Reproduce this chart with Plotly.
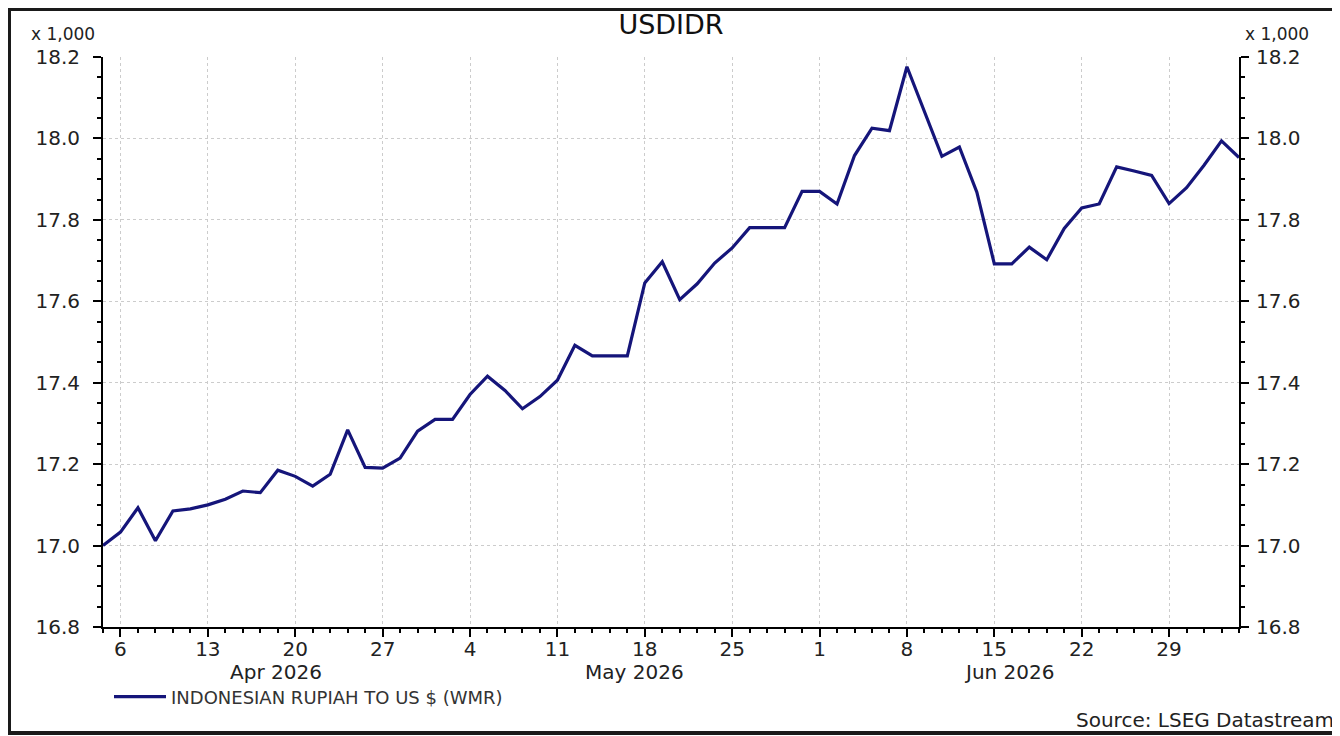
import plotly.graph_objects as go
import pandas as pd

# business days shown on the chart, Fri 3 Apr -> Fri 3 Jul 2026
dates = pd.bdate_range("2026-04-03", "2026-07-03")

# USD/IDR, in thousands of rupiah (axis is "x 1,000")
rate = [
    # April
    17.000, 17.033, 17.093, 17.012, 17.085, 17.090, 17.100, 17.114, 17.134, 17.130,
    17.185, 17.170, 17.146, 17.175, 17.284, 17.192, 17.190, 17.215, 17.281, 17.310,
    # May
    17.310, 17.371, 17.416, 17.381, 17.336, 17.366, 17.406, 17.492, 17.466, 17.466,
    17.466, 17.645, 17.697, 17.604, 17.643, 17.694, 17.731, 17.781, 17.781, 17.781,
    17.870,
    # June
    17.870, 17.839, 17.958, 18.025, 18.019, 18.176, 18.068, 17.956, 17.979, 17.868,
    17.692, 17.692, 17.733, 17.702, 17.779, 17.829, 17.839, 17.930, 17.920, 17.909,
    17.840, 17.879,
    # July
    17.934, 17.994, 17.953,
]
assert len(rate) == len(dates)

series_name = "INDONESIAN RUPIAH TO US $ (WMR)"
month_labels = ["Apr 2026", "May 2026", "Jun 2026"]
month_pos = [0.152, 0.468, 0.798]   # centre of each month label, paper coords

mondays = [d for d in dates if d.weekday() == 0]

FONT = "DejaVu Sans"
TXT = "#222222"
GRID = "#cccccc"

# the page has an 8px body margin, so the figure is 8px smaller and shifted
W, H = 1332, 728
ML, MR, MT, MB = 95, 101, 49, 109
PW, PH = W - ML - MR, H - MT - MB

fig = go.Figure()
fig.add_trace(go.Scatter(
    x=dates, y=rate, mode="lines", name=series_name,
    line=dict(color="#15157a", width=3.2),
))
# invisible copy on the right axis so it gets its own labels
fig.add_trace(go.Scatter(
    x=dates, y=rate, mode="lines", yaxis="y2", showlegend=False,
    line=dict(width=0), hoverinfo="skip",
))

yax = dict(
    range=[16.8, 18.2], dtick=0.2, tick0=16.8, tickformat=".1f",
    ticks="outside", ticklen=8, tickwidth=2, tickcolor="black",
    showline=True, linewidth=2, linecolor="black",
    minor=dict(dtick=0.05, ticks="outside", ticklen=4, tickwidth=2,
               tickcolor="black", showgrid=False),
    tickfont=dict(family=FONT, size=20, color=TXT),
    zeroline=False,
)

fig.update_layout(
    width=W, height=H,
    margin=dict(l=ML, r=MR, t=MT, b=MB),
    paper_bgcolor="white", plot_bgcolor="white",
    font=dict(family=FONT, color=TXT),
    title=dict(text="USDIDR", x=0.5, xref="paper", y=1 - 17 / H,
               yanchor="middle", font=dict(family=FONT, size=27, color="#111")),
    xaxis=dict(
        range=[dates[0], dates[-1]],
        rangebreaks=[dict(bounds=["sat", "mon"])],
        tickvals=mondays, tickformat="%-d",
        ticks="outside", ticklen=8, tickwidth=2, tickcolor="black",
        showline=True, linewidth=2, linecolor="black",
        showgrid=True, gridcolor=GRID, griddash="dot", gridwidth=1,
        minor=dict(dtick=86400000, tick0="2026-04-03", ticks="outside",
                   ticklen=4, tickwidth=2, tickcolor="black", showgrid=False),
        tickfont=dict(family=FONT, size=20, color=TXT),
        ticklabelstandoff=-5,
        zeroline=False,
    ),
    yaxis=dict(**yax, side="left", showgrid=True, gridcolor=GRID,
               griddash="dot", gridwidth=1, ticklabelstandoff=9),
    yaxis2=dict(**yax, side="right", overlaying="y", showgrid=False,
                ticklabelstandoff=3),
    showlegend=True,
    legend=dict(x=6 / PW, y=-70 / PH, xanchor="left", yanchor="middle",
                orientation="h", itemwidth=52, bgcolor="rgba(0,0,0,0)",
                font=dict(family=FONT, size=18, color="#333")),
)

# month names under the day numbers
for label, xp in zip(month_labels, month_pos):
    fig.add_annotation(text=label, x=xp, y=-45 / PH, xref="paper", yref="paper",
                       showarrow=False, xanchor="center", yanchor="middle",
                       font=dict(family=FONT, size=20, color=TXT))

# scale notes on both axes
fig.add_annotation(text="x 1,000", x=-6 / PW, y=1 + 23 / PH, xref="paper",
                   yref="paper", showarrow=False, xanchor="right",
                   yanchor="middle", font=dict(family=FONT, size=17, color=TXT))
fig.add_annotation(text="x 1,000", x=1 + 4 / PW, y=1 + 23 / PH, xref="paper",
                   yref="paper", showarrow=False, xanchor="left",
                   yanchor="middle", font=dict(family=FONT, size=17, color=TXT))

fig.add_annotation(text="Source: LSEG Datastream", x=1 + (MR - 4) / PW,
                   y=-93 / PH, xref="paper", yref="paper", showarrow=False,
                   xanchor="right", yanchor="middle",
                   font=dict(family=FONT, size=20, color=TXT))

# outer frame of the picture
fig.add_shape(type="rect", xref="paper", yref="paper",
              x0=-(ML - 1) / PW, x1=1 + (MR - 3) / PW,
              y0=-(MB - 3) / PH, y1=1 + (MT - 1) / PH,
              line=dict(color="#1a1a1a", width=4), layer="above")

fig.write_html("out.html")
